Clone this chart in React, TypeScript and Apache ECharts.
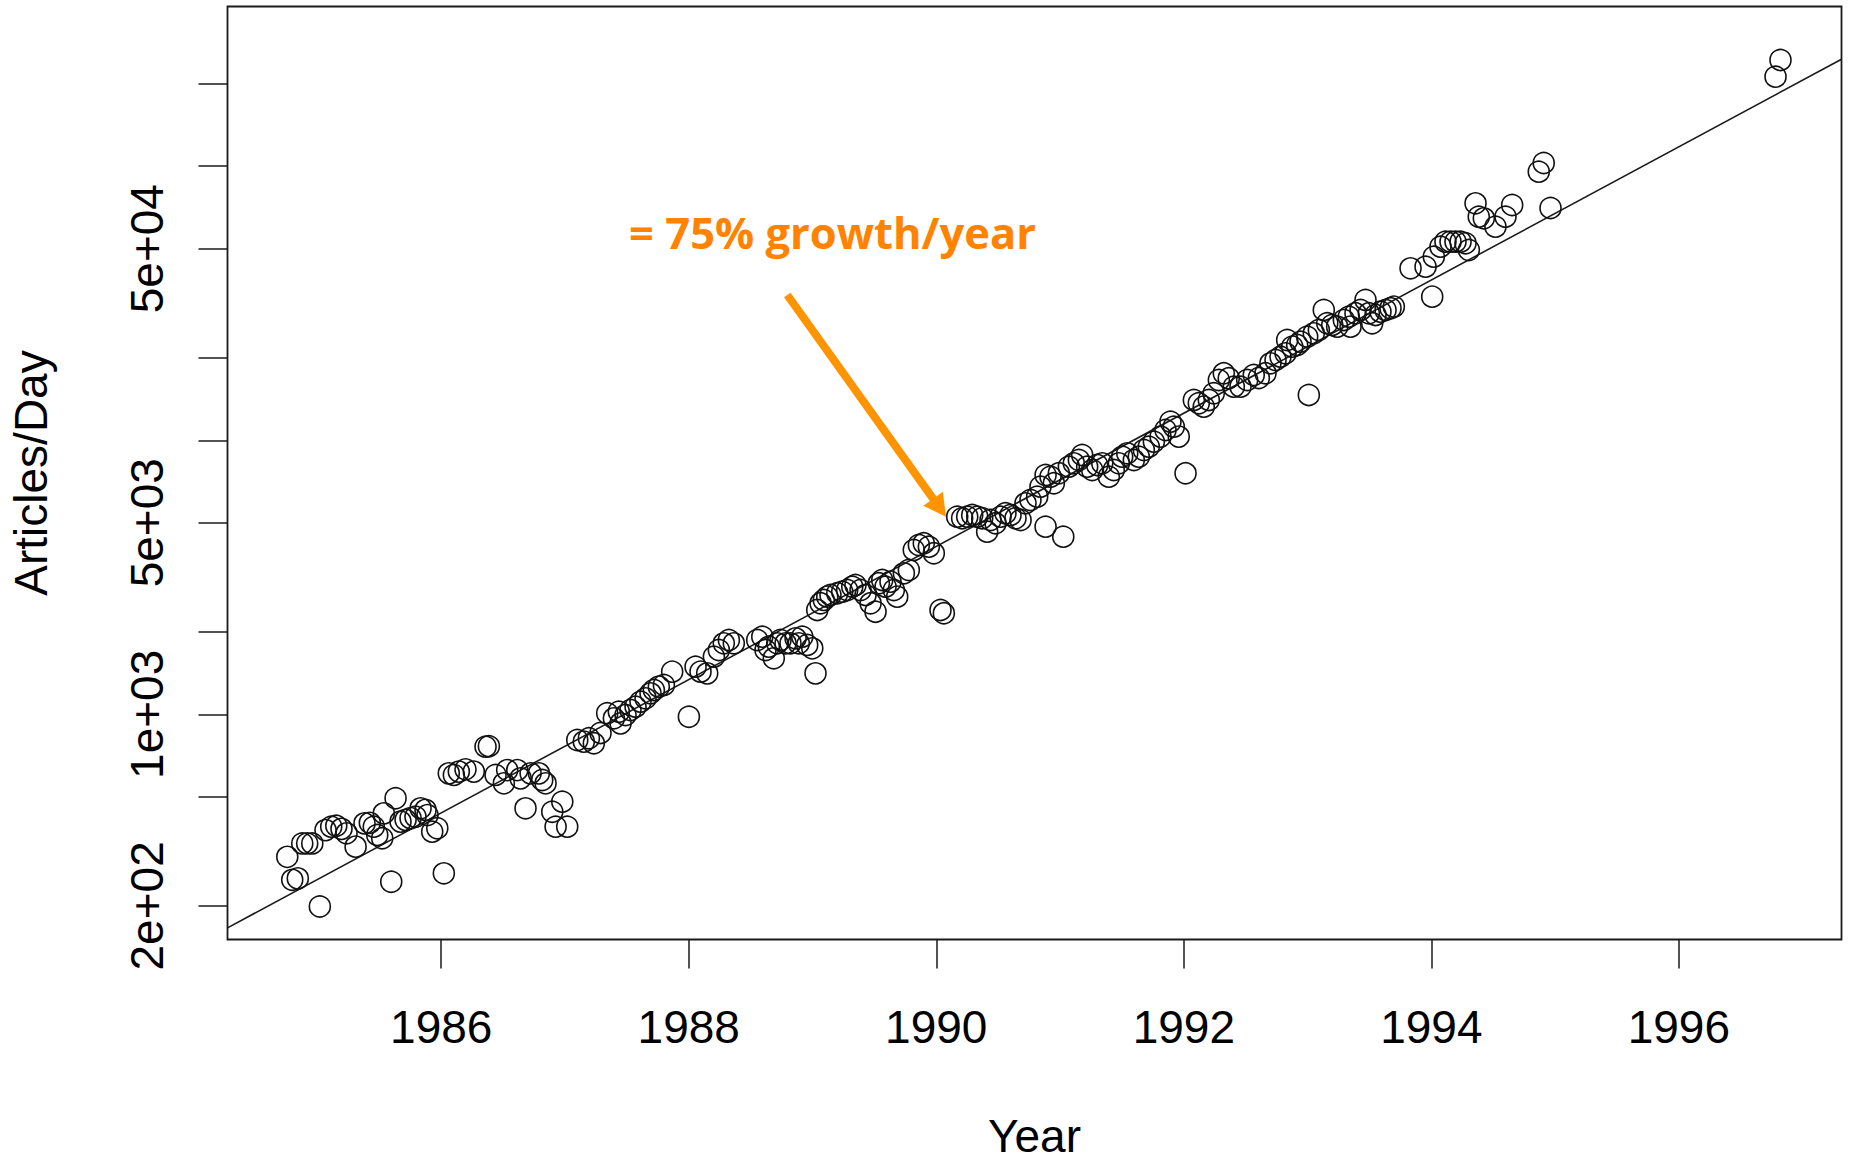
import React, { useEffect, useRef } from "react";
import * as echarts from "echarts";

// ---- data ----
const years = [
  1984.756, 1984.796, 1984.841, 1984.877, 1984.917, 1984.958, 1985.019, 1985.065, 1985.111, 1985.152,
  1985.194, 1985.235, 1985.308, 1985.380, 1985.423, 1985.455, 1985.483, 1985.523, 1985.536, 1985.596,
  1985.631, 1985.671, 1985.712, 1985.752, 1985.792, 1985.833, 1985.873, 1985.889, 1985.927, 1985.968,
  1986.021, 1986.061, 1986.102, 1986.142, 1986.196, 1986.263, 1986.358, 1986.385, 1986.439, 1986.506,
  1986.533, 1986.614, 1986.641, 1986.681, 1986.722, 1986.789, 1986.816, 1986.843, 1986.897, 1986.924,
  1986.978, 1987.018, 1987.099, 1987.152, 1987.193, 1987.233, 1987.287, 1987.341, 1987.395, 1987.435,
  1987.449, 1987.489, 1987.529, 1987.570, 1987.610, 1987.651, 1987.691, 1987.718, 1987.758, 1987.799,
  1987.866, 1988.001, 1988.055, 1988.095, 1988.149, 1988.203, 1988.243, 1988.283, 1988.324, 1988.364,
  1988.553, 1988.594, 1988.620, 1988.647, 1988.687, 1988.715, 1988.741, 1988.782, 1988.822, 1988.863,
  1988.889, 1988.917, 1988.957, 1988.998, 1989.024, 1989.038, 1989.065, 1989.091, 1989.119, 1989.145,
  1989.200, 1989.240, 1989.280, 1989.321, 1989.347, 1989.388, 1989.428, 1989.469, 1989.509, 1989.536,
  1989.563, 1989.590, 1989.630, 1989.657, 1989.684, 1989.738, 1989.778, 1989.818, 1989.859, 1989.899,
  1989.940, 1989.980, 1990.034, 1990.061, 1990.169, 1990.209, 1990.250, 1990.290, 1990.331, 1990.371,
  1990.411, 1990.438, 1990.479, 1990.519, 1990.559, 1990.600, 1990.640, 1990.681, 1990.721, 1990.761,
  1990.815, 1990.842, 1990.883, 1990.923, 1990.950, 1990.990, 1990.883, 1991.026, 1991.071, 1991.111,
  1991.152, 1991.179, 1991.219, 1991.260, 1991.300, 1991.341, 1991.394, 1991.434, 1991.475, 1991.502,
  1991.543, 1991.596, 1991.636, 1991.677, 1991.717, 1991.758, 1991.812, 1991.852, 1991.892, 1991.919,
  1991.959, 1992.014, 1992.081, 1992.121, 1992.161, 1992.202, 1992.242, 1992.283, 1992.323, 1992.363,
  1992.404, 1992.458, 1992.512, 1992.565, 1992.606, 1992.660, 1992.700, 1992.741, 1992.781, 1992.822,
  1992.835, 1992.876, 1992.916, 1992.943, 1992.997, 1993.010, 1993.050, 1993.091, 1993.131, 1993.159,
  1993.199, 1993.239, 1993.293, 1993.333, 1993.347, 1993.387, 1993.428, 1993.468, 1993.495, 1993.522,
  1993.549, 1993.589, 1993.630, 1993.670, 1993.697, 1993.832, 1993.953, 1994.007, 1994.020, 1994.074,
  1994.114, 1994.155, 1994.195, 1994.236, 1994.276, 1994.303, 1994.357, 1994.383, 1994.424, 1994.518,
  1994.599, 1994.653, 1994.868, 1994.908, 1994.963, 1996.781, 1996.821,
];

const articlesPerDay = [
  302, 249, 252, 338, 338, 338, 199, 378, 389, 392,
  382, 368, 329, 400, 402, 389, 363, 353, 435, 245,
  494, 406, 412, 418, 423, 454, 448, 429, 373, 384,
  263, 609, 601, 618, 630, 618, 762, 765, 601, 560,
  626, 626, 584, 454, 609, 609, 576, 560, 441, 389,
  480, 389, 806, 795, 818, 784, 855, 1009, 967, 1022,
  927, 994, 1037, 1066, 1112, 1144, 1193, 1227, 1262, 1280,
  1431, 980, 1492, 1431, 1411, 1623, 1717, 1816, 1867, 1816,
  1867, 1920, 1717, 1765, 1601, 1816, 1867, 1816, 1816, 1894,
  1816, 1920, 1791, 1741, 1411, 2403, 2542, 2614, 2687, 2726,
  2765, 2802, 2842, 2922, 2964, 2842, 2726, 2542, 2368, 3007,
  3092, 2922, 3048, 2842, 2687, 3270, 3362, 3978, 4148, 4208,
  4089, 3869, 2403, 2337, 5262, 5192, 5262, 5338, 5262, 5192,
  4638, 5118, 4978, 5262, 5415, 5338, 5192, 5118, 5888, 6054,
  6224, 6769, 7469, 7363, 6966, 7577, 4837, 4447, 8008, 8240,
  8472, 8835, 8008, 7789, 8123, 8240, 7363, 7789, 8240, 8710,
  8962, 8472, 8710, 9215, 9474, 9880, 10311, 10901, 11688, 11208,
  10311, 7577, 14028, 13644, 13260, 14028, 14840, 16590, 17552, 16830,
  15682, 15682, 16590, 17302, 16873, 17552, 19089, 19626, 20178, 20763,
  23220, 21950, 22265, 22890, 23870, 14630, 24562, 25253, 29880, 26720,
  26340, 25970, 27470, 28240, 25970, 29060, 29880, 32500, 29060, 26720,
  28650, 29450, 29880, 30310, 30720, 42400, 42980, 33410, 46750, 50850,
  53030, 53030, 53030, 53030, 52330, 49460, 73210, 65410, 64530, 60150,
  65410, 72180, 95480, 102720, 70380, 212100, 244100,
];

// fitted growth line (75% per year), end points
const fitYears = [1984.273, 1997.314];
const fitValues = [166.3, 245500];

// axes
const xMin = 1984.273;
const xMax = 1997.314;
const yMin = 150.8;
const yMax = 382500;
const xTickYears = [1986, 1988, 1990, 1992, 1994, 1996];
const yTickValues = [200, 500, 1000, 2000, 5000, 10000, 20000, 50000, 100000, 200000];
const yLabelValues = [200, 1000, 5000, 50000];
const yLabelTexts = ["2e+02", "1e+03", "5e+03", "5e+04"];

// annotation (anchored in data coordinates)
const annotationText = "= 75% growth/year";
const annotationAnchor = [1987.518, 57050];
const arrowTail = [1988.796, 33890];
const arrowTip = [1990.078, 5262];

const AXIS_FONT = "'Liberation Sans', Arial, Helvetica, sans-serif";
const INK = "#1a1a1a";
const ORANGE_TEXT = "#ff8200";
const ORANGE_ARROW = "#ff9400";

function yLabelFor(v: number): string {
  for (let i = 0; i < yLabelValues.length; i++) {
    if (Math.abs(Math.log10(v) - Math.log10(yLabelValues[i])) < 0.01) return yLabelTexts[i];
  }
  return "";
}

export default function App() {
  const ref = useRef<HTMLDivElement>(null);

  useEffect(() => {
    if (!ref.current) return;
    const chart = echarts.init(ref.current, null, { renderer: "svg" });

    const points = years.map((x, i) => [x, articlesPerDay[i]]);
    const fit = fitYears.map((x, i) => [x, fitValues[i]]);

    chart.setOption({
      animation: false,
      backgroundColor: "#ffffff",
      grid: {
        left: 227.5,
        top: 6.5,
        right: 8.5,
        bottom: 220.5,
        show: true,
        borderColor: INK,
        borderWidth: 1.8,
        backgroundColor: "transparent",
        containLabel: false,
        outerBoundsMode: "none",
      },
      xAxis: {
        type: "value",
        min: xMin,
        max: xMax,
        axisLine: { show: false },
        splitLine: { show: false },
        axisTick: {
          show: true,
          inside: false,
          length: 29,
          customValues: xTickYears,
          lineStyle: { color: INK, width: 1.5 },
        },
        axisLabel: {
          show: true,
          customValues: xTickYears,
          margin: 64,
          fontSize: 46,
          fontFamily: AXIS_FONT,
          color: "#000",
          formatter: (v: number) => String(Math.round(v)),
        },
        name: "Year",
        nameLocation: "middle",
        nameGap: 173,
        nameTextStyle: { fontSize: 46, fontFamily: AXIS_FONT, color: "#000" },
      },
      yAxis: {
        type: "log",
        logBase: 10,
        min: yMin,
        max: yMax,
        axisLine: { show: false },
        splitLine: { show: false },
        minorTick: { show: false },
        axisTick: {
          show: true,
          inside: false,
          length: 29,
          customValues: yTickValues,
          lineStyle: { color: INK, width: 1.5 },
        },
        axisLabel: {
          show: true,
          customValues: yLabelValues,
          rotate: 90,
          margin: 58,
          fontSize: 46,
          fontFamily: AXIS_FONT,
          color: "#000",
          formatter: (v: number) => yLabelFor(v),
        },
        name: "Articles/Day",
        nameLocation: "middle",
        nameGap: 174,
        nameTextStyle: { fontSize: 46, fontFamily: AXIS_FONT, color: "#000" },
      },
      series: [
        {
          type: "line",
          data: fit,
          showSymbol: false,
          symbol: "none",
          silent: true,
          z: 1,
          lineStyle: { color: INK, width: 1.6 },
        },
        {
          type: "scatter",
          data: points,
          symbol: "circle",
          symbolSize: 21,
          silent: true,
          z: 2,
          itemStyle: {
            color: "rgba(0,0,0,0)",
            borderColor: "#111111",
            borderWidth: 1.6,
            opacity: 1,
          },
        },
      ],
    });

    const tail = chart.convertToPixel({ gridIndex: 0 }, arrowTail) as number[];
    const tip = chart.convertToPixel({ gridIndex: 0 }, arrowTip) as number[];
    const txt = chart.convertToPixel({ gridIndex: 0 }, annotationAnchor) as number[];

    if (tail && tip && txt) {
      const dx = tip[0] - tail[0];
      const dy = tip[1] - tail[1];
      const len = Math.sqrt(dx * dx + dy * dy);
      const ux = dx / len;
      const uy = dy / len;
      const headLen = 22;
      const halfW = 12;
      const bx = tip[0] - ux * headLen;
      const by = tip[1] - uy * headLen;
      const px = -uy;
      const py = ux;

      chart.setOption({
        graphic: [
          {
            type: "line",
            z: 100,
            silent: true,
            shape: { x1: tail[0], y1: tail[1], x2: bx + ux * 2, y2: by + uy * 2 },
            style: { stroke: ORANGE_ARROW, lineWidth: 8 },
          },
          {
            type: "polygon",
            z: 100,
            silent: true,
            shape: {
              points: [
                [tip[0], tip[1]],
                [bx + px * halfW, by + py * halfW],
                [bx - px * halfW, by - py * halfW],
              ],
            },
            style: { fill: ORANGE_ARROW },
          },
          {
            type: "text",
            z: 100,
            silent: true,
            x: txt[0],
            y: txt[1],
            style: {
              text: annotationText,
              fill: ORANGE_TEXT,
              fontSize: 43.5,
              fontWeight: "bold",
              fontFamily: "'Open Sans', sans-serif",
              align: "left",
              verticalAlign: "middle",
            },
          },
        ],
      });
    }

    return () => {
      chart.dispose();
    };
  }, []);

  return (
    <div
      ref={ref}
      style={{ position: "absolute", left: 0, top: 0, width: 1850, height: 1160, background: "#fff" }}
    />
  );
}
